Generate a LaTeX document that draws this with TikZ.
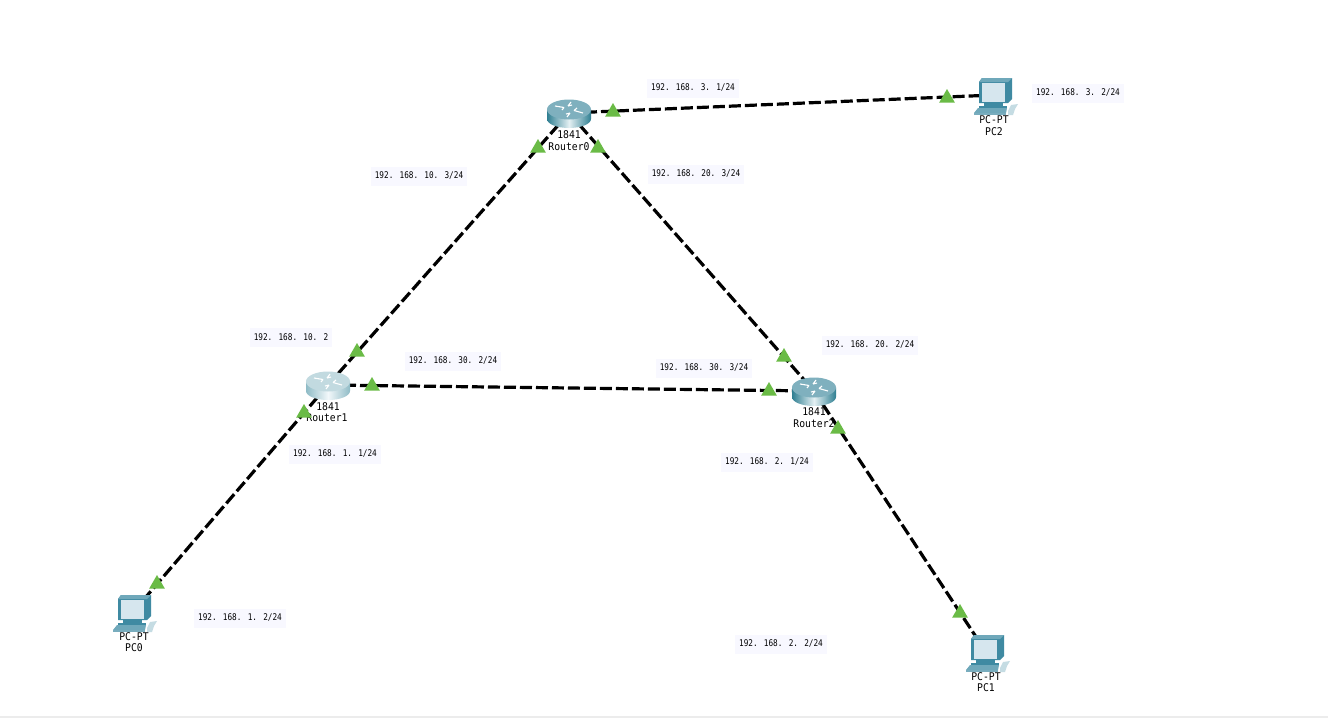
\documentclass[tikz,border=0pt]{standalone}
\usepackage{fontspec}
\newfontfamily\iplfont[FakeStretch=0.84]{DejaVu Sans Mono}
\newfontfamily\devfont[FakeStretch=0.92]{DejaVu Sans Mono}
\usetikzlibrary{shapes.geometric}
\definecolor{tri}{HTML}{6ABB46}
\definecolor{labelbg}{HTML}{F8F8FF}
\definecolor{pcdark}{HTML}{3F8AA2}
\definecolor{pcmid}{HTML}{6FA8BA}
\definecolor{pcscreen}{HTML}{D6E6EE}
\definecolor{rtop}{HTML}{7FB0BE}
\definecolor{rdark}{HTML}{2F7F92}
\definecolor{rlight}{HTML}{E4F0F3}
\definecolor{qtop}{HTML}{C2DAE0}
\definecolor{qdark}{HTML}{8FBBC6}
\definecolor{qlight}{HTML}{F2F8FA}
\tikzset{
  anchorbox/.style={inner sep=0pt,minimum width=44pt,minimum height=30pt},
  ipl/.style={fill=labelbg,inner sep=4pt,minimum height=19pt,font=\iplfont\fontsize{9.2}{11}\selectfont,text=black},
  devl/.style={inner sep=0pt,font=\devfont\fontsize{10.6}{12}\selectfont,text=black},
  link/.style={line width=3.2pt,dash pattern=on 12pt off 4pt,black},
  port/.style={regular polygon,regular polygon sides=3,fill=tri,inner sep=0pt,minimum size=18pt,draw=none}
}
\newcommand{\routericon}[4]{% node, top, side-dark, side-light
  \begin{scope}[shift={(#1.center)}]
    \shade[left color=#3,right color=#3,middle color=#4,shading angle=90]
      (-22,-3.5) -- (-22,6) arc[x radius=22,y radius=9,start angle=180,end angle=0] -- (22,-3.5) -- cycle;
    \fill[#2] (0,-3.5) ellipse[x radius=22,y radius=10];
    \draw[white,line width=1.1pt] (-14,-7) -- (-5,-5.5) (-5,-5.5) -- (-7,-3)
      (14,0) -- (5,-2.5) (5,-2.5) -- (8,-5)
      (2,-11) -- (-1,-7) (-1,-7) -- (3,-8)
      (-2,4) -- (1,0) (1,0) -- (-3,1);
  \end{scope}}
\newcommand{\pcicon}[1]{%
  \begin{scope}[shift={(#1.center)}]
    \fill[pcdark] (-15,-13) -- (-12,-17) -- (18,-17) -- (18,4) -- (14,8) -- (-15,8) -- cycle;
    \fill[pcmid] (-15,-13) -- (-12,-17) -- (18,-17) -- (14,-13) -- cycle;
    \fill[pcscreen] (-12,-12) rectangle (11,7);
    \fill[pcdark] (-10,8) rectangle (9,11);
    \fill[pcdark] (-15,11) rectangle (13,14);
    \fill[pcmid] (-20,18) -- (-16,13) -- (13,13) -- (12,18) -- cycle;
    \fill[pcdark!70] (-20,18) rectangle (12,20);
    \fill[pcmid!40] (14,16) -- (17,10) -- (24,9) -- (21,14) -- (19,20) -- (14,20) -- cycle;
  \end{scope}}
\begin{document}
\begin{tikzpicture}[x=1pt,y=-1pt]
\useasboundingbox (0,0) rectangle (1328,718);
\fill[white] (0,0) rectangle (1328,718);
\fill[gray!15] (0,716) rectangle (1328,718);
% device anchors
\node[anchorbox] (r0) at (569,113) {};
\node[anchorbox] (r1) at (328,385) {};
\node[anchorbox] (r2) at (814,391) {};
\node[anchorbox] (pc0) at (133,612) {};
\node[anchorbox] (pc1) at (986,652) {};
\node[anchorbox] (pc2) at (994,95) {};
% links
\draw[link] (r0.center) -- (pc2.center);
\draw[link] (r0.center) -- (r1.center);
\draw[link] (r0.center) -- (r2.center);
\draw[link] (r1.center) -- (r2.center);
\draw[link] (r1.center) -- (pc0.center);
\draw[link] (r2.center) -- (pc1.center);
% icons
\routericon{r0}{rtop}{rdark}{rlight}
\routericon{r1}{qtop}{qdark}{qlight}
\routericon{r2}{rtop}{rdark}{rlight}
\pcicon{pc0}
\pcicon{pc1}
\pcicon{pc2}
% device labels
\node[devl] (r0a) at (569,135) {1841};
\node[devl] (r0b) at (569,147) {Router0};
\node[devl] (r1a) at (328,407) {1841};
\node[devl] (r1b) at (327,418) {Router1};
\node[devl] (r2a) at (814,412) {1841};
\node[devl] (r2b) at (814,424) {Router2};
\node[devl] (p0a) at (134,637) {PC-PT};
\node[devl] (p0b) at (134,648) {PC0};
\node[devl] (p1a) at (986,677) {PC-PT};
\node[devl] (p1b) at (986,688) {PC1};
\node[devl] (p2a) at (994,120) {PC-PT};
\node[devl] (p2b) at (994,132) {PC2};
% ports
\foreach \n/\x/\y in {a/613/112,b/947/98,c/538/148,d/598/148,e/357/352,f/304/413,g/372/386,h/769/391,i/784/357,j/838/429,k/157/584,l/960/613}
  \node[port] (port\n) at (\x,\y) {};
% IP labels
\node[ipl] (ip1) at (693,88) {192. 168. 3. 1/24};
\node[ipl] (ip2) at (1078,93) {192. 168. 3. 2/24};
\node[ipl] (ip3) at (419,176) {192. 168. 10. 3/24};
\node[ipl] (ip4) at (696,174) {192. 168. 20. 3/24};
\node[ipl] (ip5) at (291,337) {192. 168. 10. 2};
\node[ipl] (ip6) at (453,361) {192. 168. 30. 2/24};
\node[ipl] (ip7) at (704,368) {192. 168. 30. 3/24};
\node[ipl] (ip8) at (870,345) {192. 168. 20. 2/24};
\node[ipl] (ip9) at (335,454) {192. 168. 1. 1/24};
\node[ipl] (ip10) at (767,462) {192. 168. 2. 1/24};
\node[ipl] (ip11) at (240,618) {192. 168. 1. 2/24};
\node[ipl] (ip12) at (781,644) {192. 168. 2. 2/24};
\end{tikzpicture}
\end{document}
